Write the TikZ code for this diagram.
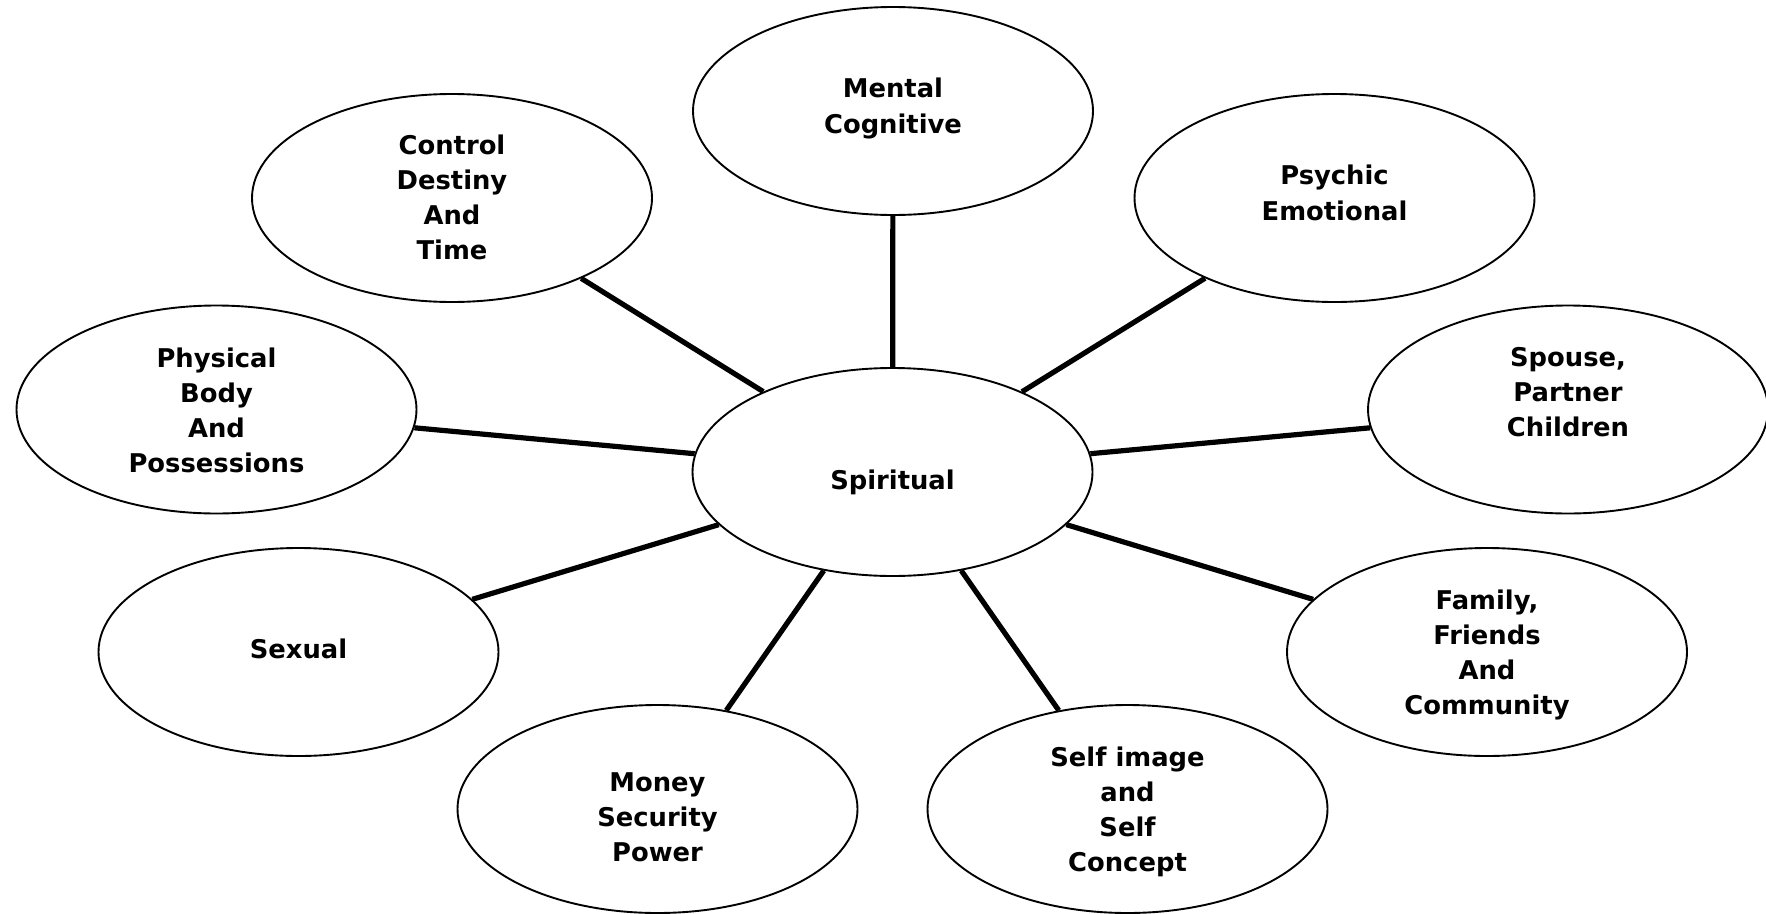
\documentclass[tikz,border=0pt]{standalone}
\usepackage{fontspec}
\setmainfont{DejaVu Sans}
\usetikzlibrary{shapes.geometric}
\tikzset{
  bubble/.style={ellipse, draw=black, line width=1.9pt, minimum width=400pt, minimum height=208pt, inner sep=0pt},
  lbl/.style={align=center, inner sep=0pt, anchor=north, font=\fontsize{25.8}{35.2}\selectfont\bfseries},
  spoke/.style={draw=black, line width=5.2pt}
}
\begin{document}
\begin{tikzpicture}[x=1pt, y=-1pt]
\useasboundingbox (0,0) rectangle (1766,913);
% ellipses
\node[bubble] (eC)  at (892.5,472) {};
\node[bubble] (eM)  at (893,111) {};
\node[bubble] (eCo) at (452,198) {};
\node[bubble] (ePs) at (1334.5,198) {};
\node[bubble] (ePh) at (216.5,409.5) {};
\node[bubble] (eSp) at (1568,409.5) {};
\node[bubble] (eSx) at (298.5,652) {};
\node[bubble] (eFa) at (1487,652) {};
\node[bubble] (eMo) at (657.5,809) {};
\node[bubble] (eSe) at (1127.5,809) {};
% spokes
\draw[spoke] (eC) -- (eM);
\draw[spoke] (eC) -- (eCo);
\draw[spoke] (eC) -- (ePs);
\draw[spoke] (eC) -- (ePh);
\draw[spoke] (eC) -- (eSp);
\draw[spoke] (eC) -- (eSx);
\draw[spoke] (eC) -- (eFa);
\draw[spoke] (eC) -- (eMo);
\draw[spoke] (eC) -- (eSe);
% labels
\node[lbl] (tC)  at (892.5,470) {Spiritual};
\node[lbl] (tM)  at (893,78) {Mental\\Cognitive};
\node[lbl] (tCo) at (452,134.5) {Control\\Destiny\\And\\Time};
\node[lbl] (tPs) at (1334.5,165) {Psychic\\Emotional};
\node[lbl] (tPh) at (216.5,347.5) {Physical\\Body\\And\\Possessions};
\node[lbl] (tSp) at (1568,347) {Spouse,\\Partner\\Children};
\node[lbl] (tSx) at (298.5,639) {Sexual};
\node[lbl] (tFa) at (1487,589.5) {Family,\\Friends\\And\\Community};
\node[lbl] (tMo) at (657.5,772) {Money\\Security\\Power};
\node[lbl] (tSe) at (1127.5,746.5) {Self image\\and\\Self\\Concept};
\end{tikzpicture}
\end{document}
